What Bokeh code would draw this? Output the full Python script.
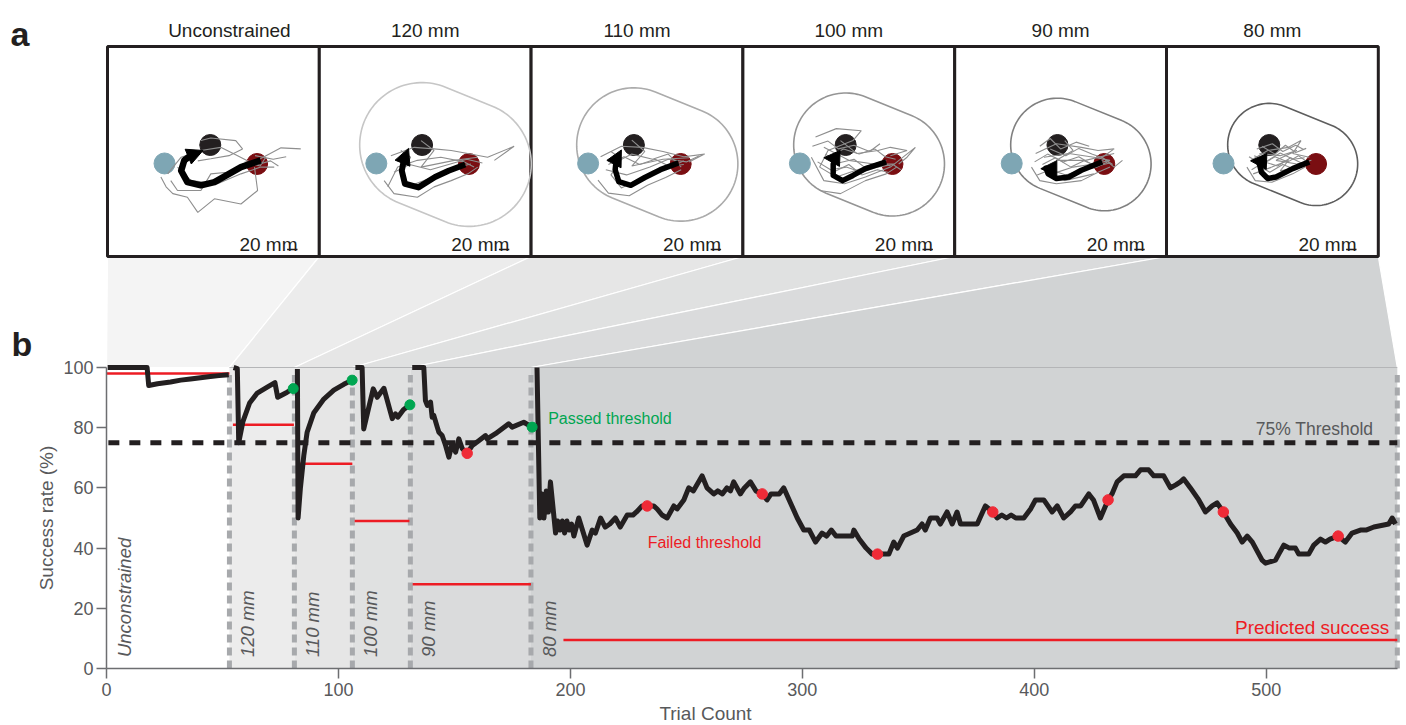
import math
from bokeh.plotting import figure
from bokeh.models import Range1d, FixedTicker, Arrow, NormalHead
from bokeh.core.properties import value
from bokeh.embed import file_html
from bokeh.resources import INLINE

# ------------------------------------------------------------------
# Panel b data: running success rate (%) against trial count
# ------------------------------------------------------------------
stage_names = ["Unconstrained", "120 mm", "110 mm", "100 mm", "90 mm", "80 mm"]
stage_edges = [0, 53, 81, 106, 131, 183, 556.5]
predicted_rate = [98, 81, 68, 49, 28, 9.5]
predicted_from = [0, 54.5, 83, 107, 132, 197]
predicted_to = [53, 80.8, 106, 130.6, 183, 556.5]
threshold_rate = 75

unc_trial = [0.5, 17.5, 18.2, 22.0, 27.6, 32.0, 36.2, 40.5, 44.8, 48.5, 52.7]
unc_rate = [100, 100, 94.0, 94.6, 95.2, 95.8, 96.2, 96.6, 97.0, 97.3, 97.6]

c120_trial = [54.8, 56.4, 57.0, 58.8, 61.7, 65.0, 69.3, 72.6, 73.8, 77.9, 80.5]
c120_rate = [100, 99.6, 75, 82, 88.2, 91.5, 93.5, 95, 90.1, 91.8, 93]

c110_trial = [82.3, 82.6, 83.6, 85.1, 86.5, 89.4, 93.7, 98.0, 102.3, 105.9]
c110_rate = [99.5, 50, 60, 71, 78.5, 85, 89.5, 92.5, 94.4, 95.8]

c100_trial = [107.3, 110.2, 110.9, 113.0, 115.0, 116.7, 119.6, 123.2, 124.6, 125.6, 128.0, 130.8]
c100_rate = [100, 100, 79.6, 86.5, 92.9, 90.1, 93.1, 83.0, 84.6, 83.5, 86.0, 87.6]

c90_trial = [131.8, 136.8, 137.5, 138.3, 139.7, 140.4, 141.1, 142.6, 143.3, 144.7, 146.2,
             147.6, 149.0, 150.5, 151.9, 153.4, 155.5, 157.7, 160.5, 163.4, 164.1, 167.7,
             173.4, 174.9, 179.9, 183.5]
c90_rate = [100, 100, 89.0, 87.4, 88.5, 83.5, 84.1, 80.2, 78.5, 77.4, 74.1,
            70.2, 74.7, 71.9, 76.3, 73.0, 71.5, 74.1, 75.7, 77.4, 76.3, 78.0,
            81.3, 80.2, 81.8, 80.2]

c80_trial = [185.6, 186.8, 187.8, 188.6, 189.6, 190.5, 191.4, 193.6, 194.5, 195.5, 196.5,
             197.5, 198.5, 199.5, 200.5, 201.5, 203.6, 205.2, 207.2, 209.4, 210.8, 213.0,
             215.0, 217.0, 219.4, 221.5, 224.5, 227.0, 228.5, 230.9, 233.1, 236.0, 237.4,
             239.5, 241.7, 244.6, 246.0, 248.9, 251.0, 253.0, 256.8, 258.9, 261.8, 263.5,
             265.5, 267.5, 269.0, 270.4, 273.3, 275.0, 277.6, 280.0, 282.7, 284.8, 286.5,
             290.0, 292.0, 294.9, 297.8, 300.6, 303.0, 305.7, 308.5, 310.5, 312.5, 314.5,
             316.4, 321.5, 322.2, 324.5, 327.5, 330.1, 332.4, 337.3, 339.4, 341.0, 343.7,
             346.6, 349.5, 351.6, 353.0, 355.2, 358.1, 359.5, 362.4, 364.6, 366.7, 368.2,
             375.4, 378.9, 382.1, 384.0, 386.0, 388.0, 390.0, 392.0, 395.5, 398.4, 400.5,
             404.1, 407.7, 409.9, 412.7, 415.6, 417.7, 420.0, 423.5, 425.5, 428.5, 431.8,
             433.5, 435.7, 438.6, 443.6, 445.8, 449.3, 451.5, 455.8, 458.7, 461.0, 463.0,
             464.4, 467.3, 470.9, 473.8, 476.7, 478.8, 481.5, 484.6, 487.5, 489.6, 491.8,
             494.0, 498.2, 499.7, 504.0, 505.4, 507.6, 510.0, 512.6, 514.0, 516.0, 518.3,
             520.5, 523.4, 525.5, 527.5, 531.0, 534.1, 537.0, 540.6, 543.0, 546.4, 552.8,
             554.3, 555.7]
c80_rate = [100, 50, 58, 50, 59, 52, 62, 45, 49, 46, 49,
            45, 49, 46, 48, 44, 50, 46, 41, 46, 45, 50,
            47, 48, 50, 47, 51, 51, 52, 54, 54, 54, 53,
            51, 50, 54, 53, 56, 60, 59, 64, 60, 58, 59,
            58, 60, 59, 62, 58, 60, 62, 59, 58, 56, 58,
            58, 60, 55, 50, 46, 46, 42, 45, 44, 46, 44,
            44, 44, 46, 43, 40, 38, 38, 38, 42, 40, 44,
            45, 46, 48, 46, 50, 50, 48, 52, 48, 52, 48,
            48, 54, 52, 50, 51, 50, 51, 50, 50, 53, 56,
            56, 52, 54, 50, 52, 54, 54, 58, 56, 50, 56,
            58, 62, 64, 64, 66, 66, 64, 64, 60, 61, 62,
            63, 60, 56, 52, 54, 55, 52, 48, 45, 42, 44,
            42, 36, 35, 36, 38, 41, 40, 40, 38, 38, 38,
            41, 43, 42, 43, 44, 42, 45, 46, 46, 47, 48,
            50, 48]

passed_trial = [80.5, 105.9, 130.8, 183.5]
passed_rate = [93, 95.8, 87.6, 80.2]
failed_trial = [155.5, 233.1, 282.7, 332.4, 382.1, 431.8, 481.5, 531.0]
failed_rate = [71.5, 54, 58, 38, 52, 56, 52, 44]

# ------------------------------------------------------------------
# Panel a data: hand trajectories in mm, origin at panel centre, y up
# ------------------------------------------------------------------
panel_titles = ["Unconstrained", "120 mm", "110 mm", "100 mm", "90 mm", "80 mm"]
constraint_mm = [None, 120, 110, 100, 90, 80]
target_x = [-94, -6, 84]
target_y = [-23, 12.5, -24]
scale_bar_mm = 20

mean_unc = ([91, 53, 2, -24, -50, -62, -56, -44], [-17, -30, -59, -65, -59, -37, -17, -8])
mean_120 = ([77, 45, 19, -13, -39, -45, -41], [-25, -37, -49, -69, -62, -37, -16])
mean_110 = ([80, 45, 15, -12, -35, -42, -40], [-22, -35, -50, -65, -58, -35, -16])
mean_100 = ([72, 32, 8, -12, -30, -30, -24], [-20, -33, -46, -56, -46, -24, -13])
mean_90 = ([80, 40, 16, -8, -24, -28, -14], [-20, -36, -49, -52, -43, -32, -33])
mean_80 = ([71, 39, 7, -9, -21, -25, -17], [-20, -33, -49, -52, -40, -24, -19])

arrow_unc = ((-44, -8), (-20, 2))
arrow_120 = ((-41, -16), (-32, 6))
arrow_110 = ((-40, -16), (-30, 3))
arrow_100 = ((-24, -13), (-48, -12))
arrow_90 = ((-14, -33), (-38, -33))
arrow_80 = ((-17, -19), (-42, -18))

gray_unc = [
    ([85, 130, 168], [-17, 7, 5]),
    ([-24, -5, 43, 56, 30, -5, -30], [21, 26, 21, 5, -8, -14, -18]),
    ([-101, -91, -78, -50, -30, 2, 53, 85, 79], [-49, -68, -81, -88, -117, -91, -101, -75, -30]),
    ([-88, -62, -24, 14, 40, 70, 95], [-43, -11, 2, 8, -5, -20, -22]),
    ([-69, -43, 8, 53, 91, 117], [-30, -56, -62, -43, -30, -30]),
    ([-82, -69, -24, -5, 27, 66, 85, 110, 125], [-56, -75, -75, -43, -40, -24, -25, -18, -28]),
    ([60, 90, 100, 80, 115, 140], [-20, -28, -12, -8, -15, -10]),
]
gray_120 = [
    ([-66, -21, 17, 50, 82, 120, 171, 133], [-8, 8, 5, 2, -4, -11, 10, -17]),
    ([-72, -53, -15, 30, 75, 94], [-68, -30, -17, -11, -20, -30]),
    ([-79, -60, -15, 17, 50, 82, 101], [-56, -81, -88, -68, -56, -43, -30]),
    ([-47, -28, -47, -34, -2, 30, 62, 88], [2, -11, -43, -68, -56, -43, -30, -24]),
    ([-8, 17, -8, 56, 101], [21, 2, -30, -17, -11]),
    ([-60, -30, 10, 45, 80, 110], [-40, -25, -35, -25, -15, -22]),
]
gray_110 = [
    ([-70, -30, 10, 50, 90, 130, 100], [-10, 10, 8, 0, -10, -5, -20]),
    ([-75, -55, -15, 20, 55, 85], [-55, -80, -85, -65, -50, -35]),
    ([-50, -30, -50, -30, 0, 35, 65, 90], [0, -15, -45, -70, -55, -40, -28, -25]),
    ([-10, 15, -10, 50, 100], [22, 0, -28, -15, -12]),
    ([-60, -20, 25, 60, 95, 120], [-35, -45, -30, -15, -20, -8]),
    ([-40, -10, 30, 60, 85], [-20, -5, -15, -5, -30]),
    ([-55, -25, 5, 35, 65, 90], [-25, -10, -25, -15, -30, -18]),
]
gray_100 = [
    ([-64, -24, 24, 8, -40, -56, -24, 32, 72], [28, 44, 40, 21, 2, -30, -49, -30, -17]),
    ([-72, -48, -8, 32, 80, 128, 112, 96], [-11, -56, -62, -49, -30, 8, -11, -24]),
    ([-16, 16, 56, 80, 112, 80], [21, -4, 2, 8, 2, -8]),
    ([-56, -16, 32, 72, 92], [-75, -81, -56, -43, -30]),
    ([-48, 0, 48, 88], [8, -17, -24, -24]),
    ([-70, -40, -20, 10, 40, 60], [10, 20, 5, 12, 0, 15]),
    ([-40, -10, 20, 50, 70, 90], [-10, 5, -5, 5, -10, -15]),
    ([-60, -35, -5, 25, 55, 85, 100], [-20, -35, -30, -40, -30, -25, -35]),
    ([-45, -20, 10, 30, 60, 80], [-5, -22, -15, -30, -20, -28]),
    ([-30, 0, 25, 55, 75], [-40, -25, -45, -35, -40]),
]
gray_90 = [
    ([-48, -8, 40, 72, 103, 80, 103, 119], [-4, 15, 8, 2, 5, -11, -30, -17]),
    ([-56, -40, -8, 40, 72, 95], [-30, -56, -62, -56, -40, -30]),
    ([-32, 16, 64, 95, 64, 24, -16, 8, 64], [-11, -4, -11, -17, -24, -30, -43, -56, -43]),
    ([8, 24, -8, 48, 103], [21, 2, -17, -17, -4]),
    ([-40, -20, 0, 30, 55], [10, 25, 5, 18, 10]),
    ([-50, -25, 5, 35, 60, 85, 100], [-20, -5, -20, -10, -25, -15, -25]),
    ([-45, -20, 10, 40, 70, 90], [-45, -35, -45, -35, -30, -20]),
    ([-35, -10, 20, 45, 70, 95], [-25, -12, -30, -18, -28, -22]),
    ([-20, 10, 35, 60, 80], [5, -8, 6, -5, -12]),
]
gray_80 = [
    ([-41, -9, 31, 55, 39, 71], [-17, 2, 8, 21, -4, -11]),
    ([-49, -33, -1, 39, 63], [-30, -56, -59, -43, -30]),
    ([-25, 15, 47, 7, 47, 75], [-4, -8, 2, -17, -24, -17]),
    ([-37, -1, 31, 15, 55], [-43, -30, -17, -37, -30]),
    ([-30, 0, 20, 45, 60], [5, 15, 0, 12, 4]),
    ([-45, -20, 5, 30, 50, 70], [-10, -25, -10, -20, -8, -22]),
    ([-40, -15, 10, 35, 60], [-35, -20, -28, -12, -24]),
    ([-20, 5, 25, 45, 65], [10, -5, 12, -2, 6]),
    ([-35, -10, 15, 40, 62], [-8, -18, -3, -15, -12]),
    ([-30, -5, 20, 45, 65], [-25, -40, -25, -35, -22]),
]

panel_means = [mean_unc, mean_120, mean_110, mean_100, mean_90, mean_80]
panel_arrows = [arrow_unc, arrow_120, arrow_110, arrow_100, arrow_90, arrow_80]
panel_grays = [gray_unc, gray_120, gray_110, gray_100, gray_90, gray_80]

# ------------------------------------------------------------------
# Styling
# ------------------------------------------------------------------
FONT = "Liberation Sans"
INK = "#231f20"
GREY_TXT = "#58595b"
AXIS_GREY = "#6d6e71"
RED = "#ed1c24"
DOT_RED = "#ef2b37"
GREEN = "#00a651"
TARGET_COLORS = ["#7ea6b4", "#231f20", "#7a0e12"]
BOUNDARY_COLORS = [None, "#c6c6c6", "#ababab", "#959595", "#808080", "#5e5e5e"]
STAGE_SHADES = ["#f4f4f4", "#ececec", "#e6e6e6", "#e0e1e1", "#dadbdc", "#d1d3d4"]
MEAN_WIDTH = [6.5, 6, 5.5, 5.5, 5.5, 5.5]

# the plot frame fills the whole page; pixel helpers place the layout
W, H = 1406, 725
SX, SY = 2.3195, 3.01          # px per trial, px per percent
ORIGIN_PX, ORIGIN_PY = 106.0, 668.0
X_LO = -ORIGIN_PX / SX
X_HI = X_LO + W / SX
Y_LO = -(H - ORIGIN_PY) / SY
Y_HI = Y_LO + H / SY


def dx(px):
    return X_LO + px / SX


def dy(py):
    return Y_HI - py / SY


# panel a layout
BOX_X0, BOX_W = 107.0, 211.8
BOX_TOP, BOX_BOT, BOX_CY = 46.0, 256.0, 151.0
PX_PER_MM = 0.52

p = figure(width=W, height=H, x_range=Range1d(X_LO, X_HI), y_range=Range1d(Y_LO, Y_HI),
           output_backend="svg", toolbar_location=None,
           min_border_left=0, min_border_right=0, min_border_top=0, min_border_bottom=0)
p.outline_line_color = None
p.grid.visible = False

# axes drawn at the data origin
p.xaxis.fixed_location = 0
p.yaxis.fixed_location = 0
p.xaxis.bounds = (0, stage_edges[-1])
p.yaxis.bounds = (0, 100)
p.xaxis.ticker = FixedTicker(ticks=[0, 100, 200, 300, 400, 500])
p.yaxis.ticker = FixedTicker(ticks=[0, 20, 40, 60, 80, 100])
for ax in (p.xaxis[0], p.yaxis[0]):
    ax.major_label_text_font = FONT
    ax.major_label_text_font_size = "18px"
    ax.major_label_text_color = GREY_TXT
    ax.axis_line_color = AXIS_GREY
    ax.axis_line_width = 1.5
    ax.major_tick_line_color = AXIS_GREY
    ax.major_tick_line_width = 1.5
    ax.major_tick_out = 10
    ax.major_tick_in = 0
    ax.minor_tick_line_color = None
p.xaxis.major_label_standoff = 4
p.yaxis.major_label_standoff = 3
p.xaxis.level = "overlay"
p.yaxis.level = "overlay"


def to_box(i, xs, ys):
    cx = BOX_X0 + i * BOX_W + BOX_W / 2
    return ([dx(cx + v * PX_PER_MM) for v in xs],
            [dy(BOX_CY - v * PX_PER_MM) for v in ys])


# connector wedges between the panels and their stages
wx, wy = [], []
for i in range(6):
    left = BOX_X0 + i * BOX_W
    wx.append([dx(left), dx(left + BOX_W), stage_edges[i + 1], stage_edges[i]])
    wy.append([dy(BOX_BOT), dy(BOX_BOT), 100, 100])
p.patches(wx, wy, fill_color=STAGE_SHADES, line_color="white", line_width=1.2)

# stage shading below 100 %
p.quad(left=stage_edges[1:-1], right=stage_edges[2:], bottom=0, top=100,
       fill_color=STAGE_SHADES[1:], line_color=None)
p.line([stage_edges[1], stage_edges[-1]], [100, 100], line_color="#b4b5b7", line_width=1)

# stage boundaries
p.segment(x0=stage_edges[1:], y0=0, x1=stage_edges[1:], y1=97.5,
          line_color="#a7a9ac", line_width=5, line_dash="8 5")

# threshold
p.line([0.8, stage_edges[-1]], [threshold_rate, threshold_rate], line_color=INK,
       line_width=5, line_dash="11 10")

# predicted success per stage
p.segment(x0=predicted_from, y0=predicted_rate, x1=predicted_to, y1=predicted_rate,
          line_color=RED, line_width=2.5)

# success-rate curves
for xs, ys in [(unc_trial, unc_rate), (c120_trial, c120_rate), (c110_trial, c110_rate),
               (c100_trial, c100_rate), (c90_trial, c90_rate), (c80_trial, c80_rate)]:
    p.line(xs, ys, line_color=INK, line_width=5, line_join="round")

p.scatter(passed_trial, passed_rate, size=10, color=GREEN)
p.scatter(failed_trial, failed_rate, size=10.5, color=DOT_RED)


def label(x, y, text, size, color, align="left", baseline="middle", angle=0.0, style="normal"):
    p.text(x=[x], y=[y], text=[text], angle=angle, text_align=align, text_baseline=baseline,
           text_font=value(FONT), text_font_size=value(size), text_color=color,
           text_font_style=style)


# stage names
p.text(x=[e + 7.8 for e in stage_edges[:-1]], y=[3.8] * 6, text=stage_names, angle=math.pi / 2,
       text_align="left", text_baseline="middle", text_font=value(FONT),
       text_font_style="italic", text_font_size=value("18.5px"), text_color=GREY_TXT)

label(190.4, 83, "Passed threshold", "16px", GREEN)
label(233.3, 42, "Failed threshold", "16px", RED)
label(546.2, 79.6, "75% Threshold", "17.5px", GREY_TXT, align="right")
label(553, 13.7, "Predicted success", "19px", RED, align="right")

# axis titles
label(dx(46), 50, "Success rate (%)", "19px", GREY_TXT, align="center", angle=math.pi / 2)
label(dx(705), dy(713), "Trial Count", "19px", GREY_TXT, align="center")

# ---------------- panel a ----------------
lefts = [BOX_X0 + i * BOX_W for i in range(6)]
p.quad(left=[dx(l) for l in lefts], right=[dx(l + BOX_W) for l in lefts],
       top=dy(BOX_TOP), bottom=dy(BOX_BOT), fill_color="white", line_color=INK, line_width=3)

title_nudge = [16, 0, 0, 0, 0, 0]
p.text(x=[dx(l + BOX_W / 2 + n) for l, n in zip(lefts, title_nudge)], y=[dy(30)] * 6,
       text=panel_titles, text_align="center", text_baseline="middle",
       text_font=value(FONT), text_font_size=value("19px"), text_color=INK)

for i in range(6):
    left = lefts[i]
    # constraint boundary: points within r of the segment between the two outer targets
    r = constraint_mm[i]
    if r is not None:
        x1, y1, x2, y2 = target_x[1], target_y[1], target_x[2], target_y[2]
        L = math.hypot(x2 - x1, y2 - y1)
        ux, uy = (x2 - x1) / L, (y2 - y1) / L
        nx, ny = -uy, ux
        bx, by = [], []
        for cxm, cym, a0 in [(x2, y2, -math.pi / 2), (x1, y1, math.pi / 2)]:
            for k in range(61):
                a = a0 + math.pi * k / 60
                bx.append(cxm + r * (math.cos(a) * ux + math.sin(a) * nx))
                by.append(cym + r * (math.cos(a) * uy + math.sin(a) * ny))
        bx.append(bx[0])
        by.append(by[0])
        X, Y = to_box(i, bx, by)
        p.line(X, Y, line_color=BOUNDARY_COLORS[i], line_width=1.6)

    tx, ty = to_box(i, target_x, target_y)
    p.scatter(tx, ty, size=21, color=TARGET_COLORS)

    for gx, gy in panel_grays[i]:
        X, Y = to_box(i, gx, gy)
        p.line(X, Y, line_color="#8e8e8e", line_width=1.1)

    mx, my = to_box(i, *panel_means[i])
    p.line(mx, my, line_color="black", line_width=MEAN_WIDTH[i], line_join="round")
    (ax0, ay0), (ax1, ay1) = panel_arrows[i]
    AX, AY = to_box(i, [ax0, ax1], [ay0, ay1])
    p.add_layout(Arrow(end=NormalHead(size=16, fill_color="black", line_color="black"),
                       x_start=AX[0], y_start=AY[0], x_end=AX[1], y_end=AY[1],
                       line_color="black", line_width=5))

    # scale bar
    right = left + 190
    label(dx(right), dy(244), "20 mm", "19px", INK, align="right", baseline="alphabetic")
    p.line([dx(right - scale_bar_mm * PX_PER_MM), dx(right)], [dy(249), dy(249)],
           line_color=INK, line_width=1.5)

# panel letters
label(dx(10), dy(33), "a", "34px", INK, baseline="alphabetic", style="bold")
label(dx(11), dy(343), "b", "34px", INK, baseline="alphabetic", style="bold")

open("out.html", "w").write(file_html(p, INLINE))
